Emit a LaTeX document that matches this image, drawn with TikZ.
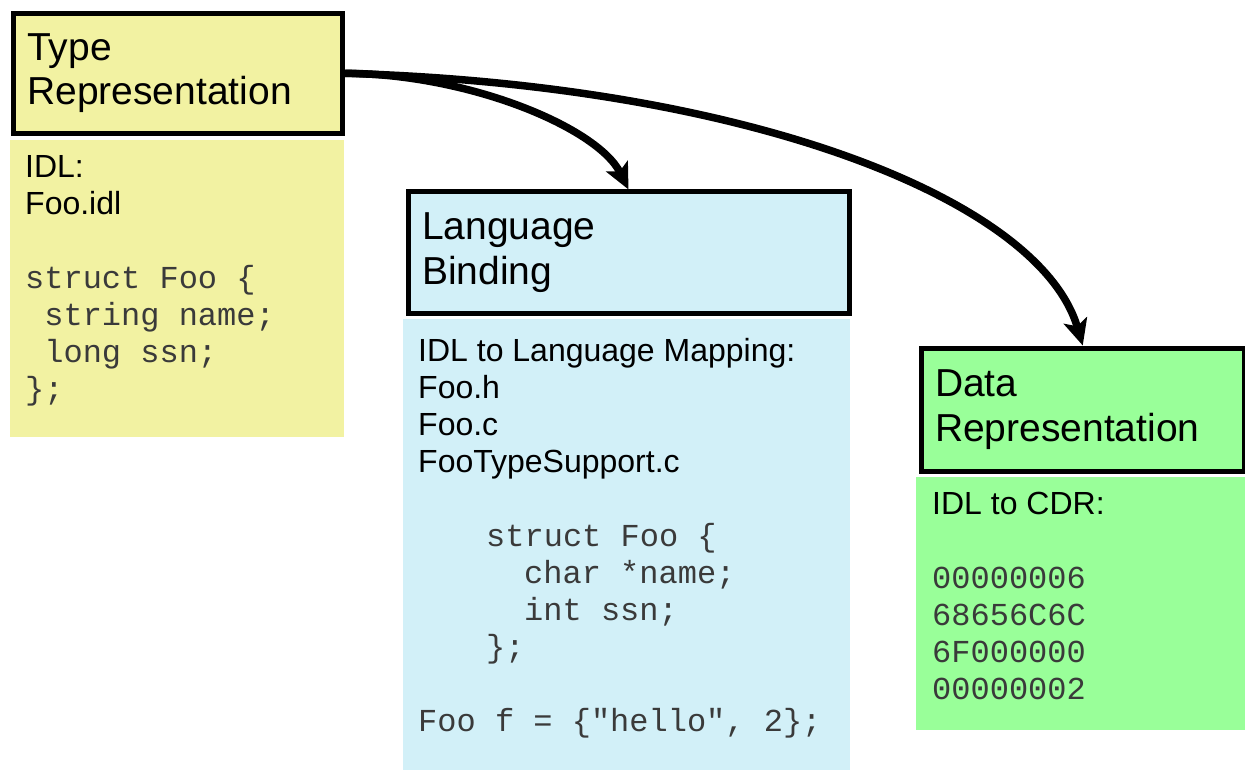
\documentclass[tikz,border=0pt]{standalone}
\usepackage{fontspec}
\setmainfont{Liberation Sans}
\newfontfamily\codefont{Liberation Mono}
\usetikzlibrary{arrows.meta}
\definecolor{ybg}{HTML}{F2F2A2}
\definecolor{bbg}{HTML}{D2F0F8}
\definecolor{gbg}{HTML}{99FF99}
\definecolor{codegray}{HTML}{3A3A3A}
\newcommand\codeln[1]{{\codefont\color{codegray}#1}}
\tikzset{
  header/.style={draw=black, line width=5pt, anchor=north west, inner xsep=14pt,
    inner ysep=0pt, align=left, font=\fontsize{39}{44.5}\selectfont},
  bodybox/.style={anchor=north west, inner sep=0pt, draw=none},
  bodytext/.style={anchor=base west, inner sep=0pt, align=left,
    font=\fontsize{32}{37}\selectfont},
  arr/.style={line width=7.5pt, -{Stealth[length=26pt,width=24pt,inset=6pt]}}
}
\begin{document}
\begin{tikzpicture}[x=1pt,y=-1pt]
\useasboundingbox[fill=white] (0,0) rectangle (1245,770);
% headers
\node[header, fill=ybg, minimum width=329.4pt, minimum height=120pt, text width=301.4pt]
  (tr) at (10.8,10.8) {Type\\Representation};
\node[header, fill=bbg, minimum width=441pt, minimum height=121pt, text width=413pt]
  (lb) at (405.5,189.5) {Language\\Binding};
\node[header, fill=gbg, minimum width=323.5pt, minimum height=123pt, text width=295.5pt]
  (dr) at (918.5,345.5) {Data\\Representation};
% body boxes
\node[bodybox, fill=ybg, minimum width=334.7pt, minimum height=296.7pt] (yb) at (9.3,140) {};
\node[bodybox, fill=bbg, minimum width=447pt, minimum height=452pt] (bb) at (403,319) {};
\node[bodybox, fill=gbg, minimum width=330pt, minimum height=253pt] (gb) at (916,477) {};
% body texts (anchored at the baseline of their last line)
\node[bodytext] (yt) at (25,399) {IDL:\\Foo.idl\\\mbox{}\\
  \codeln{struct Foo \{}\\
  \codeln{\hspace*{19.2pt}string name;}\\
  \codeln{\hspace*{19.2pt}long ssn;}\\
  \codeln{\};}};
\node[bodytext] (bt) at (418,731) {IDL to Language Mapping:\\Foo.h\\Foo.c\\FooTypeSupport.c\\\mbox{}\\
  \codeln{\hspace*{68pt}struct Foo \{}\\
  \codeln{\hspace*{106pt}char *name;}\\
  \codeln{\hspace*{106pt}int ssn;}\\
  \codeln{\hspace*{68pt}\};}\\\mbox{}\\
  \codeln{Foo f = \{"hello", 2\};}};
\node[bodytext] (gt) at (932,699) {IDL to CDR:\\\mbox{}\\
  \codeln{00000006}\\
  \codeln{68656C6C}\\
  \codeln{6F000000}\\
  \codeln{00000002}};
% connectors
\draw[arr] (tr.east) .. controls (470,74) and (598,128) .. (lb.north);
\draw[arr] (tr.east) .. controls (750,85) and (1040,200) .. (dr.north);
\end{tikzpicture}
\end{document}
